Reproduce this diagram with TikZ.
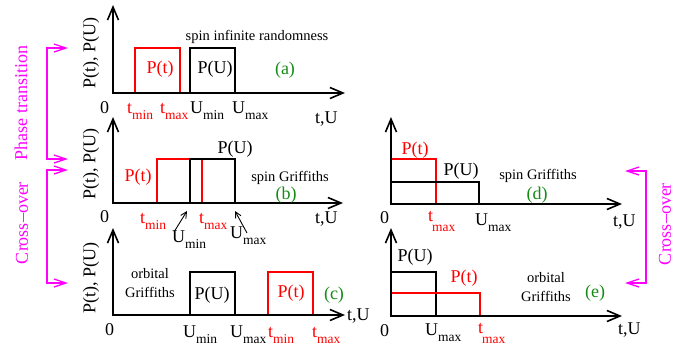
\documentclass[tikz,border=0pt]{standalone}
\usepackage{fontspec}
\setmainfont{Liberation Serif}
\usetikzlibrary{arrows.meta}
\definecolor{mag}{RGB}{255,0,255}
\definecolor{grn}{RGB}{20,140,20}
\definecolor{rd}{RGB}{255,0,0}
\newcommand\lo[1]{\raisebox{-6pt}{\fontsize{13.5}{15}\selectfont #1}}
\begin{document}
\begin{tikzpicture}[x=1pt,y=-1pt,
  axis/.style={line width=2pt, {Straight Barb[length=13pt,width=11pt,line width=1.6pt]}-{Straight Barb[length=13pt,width=11pt,line width=1.6pt]}},
  box/.style={line width=1.5pt},
  lab/.style={inner sep=0pt, font=\fontsize{18}{20}\selectfont},
  sublab/.style={inner sep=0pt, font=\fontsize{13.5}{15}\selectfont},
  sml/.style={inner sep=0pt, font=\fontsize{14.5}{19}\selectfont, align=center},
  brk/.style={mag, line width=1.5pt, {Straight Barb[length=12pt,width=8pt,line width=1.3pt]}-{Straight Barb[length=12pt,width=8pt,line width=1.3pt]}},
  sarr/.style={line width=0.9pt, -{Straight Barb[length=6pt,width=6pt]}},
  ylab/.style={lab, rotate=90, anchor=west},
]
\useasboundingbox (0,0) rectangle (697,349);

% ---------- magenta brackets ----------
\coordinate (L1a) at (68,48); \coordinate (L1b) at (47,48);
\coordinate (L1c) at (47,159); \coordinate (L1d) at (68,159);
\draw[brk] (L1a) -- (L1b) -- (L1c) -- (L1d);
\coordinate (L2a) at (68,170); \coordinate (L2b) at (47,170);
\coordinate (L2c) at (47,283); \coordinate (L2d) at (68,283);
\draw[brk] (L2a) -- (L2b) -- (L2c) -- (L2d);
\coordinate (R1a) at (625,171); \coordinate (R1b) at (646,171);
\coordinate (R1c) at (646,283); \coordinate (R1d) at (625,283);
\draw[brk] (R1a) -- (R1b) -- (R1c) -- (R1d);
\node[lab, text=mag, rotate=90] (phase) at (21,103) {Phase transition};
\node[lab, text=mag, rotate=90] (crossL) at (22,223) {Cross--over};
\node[lab, text=mag, rotate=90] (crossR) at (665,224) {Cross--over};

% ---------- panel (a) ----------
\coordinate (aO) at (113,93); \coordinate (aY) at (113,5); \coordinate (aX) at (345,93);
\draw[box, rd] (135,93) -- (135,48) -- (180,48) -- (180,93);
\draw[box] (190,93) -- (190,48) -- (235,48) -- (235,93);
\draw[axis] (aY) -- (aO) -- (aX);
\node[ylab] (aylab) at (91,89) {P(t), P(U)};
\node[sml] (atitle) at (257,37) {spin infinite randomness};
\node[lab, text=rd] (aPt) at (160,69) {P(t)};
\node[lab] (aPU) at (215,69) {P(U)};
\node[lab, text=grn] (alab) at (285,70) {(a)};
\node[lab, anchor=base west] (a0) at (100,113) {0};
\node[lab, anchor=base west, text=rd] (atmin) at (127,113) {t\lo{min}};
\node[lab, anchor=base west, text=rd] (atmax) at (160,113) {t\lo{max}};
\node[lab, anchor=base west] (aUmin) at (190,113) {U\lo{min}};
\node[lab, anchor=base west] (aUmax) at (232,113) {U\lo{max}};
\node[lab, anchor=base west] (atU) at (315,123) {t,U};

% ---------- panel (b) ----------
\coordinate (bO) at (113,203); \coordinate (bY) at (113,117); \coordinate (bX) at (343,203);
\draw[box, rd] (157,203) -- (157,159) -- (202,159) -- (202,203);
\draw[box] (190,203) -- (190,159) -- (235,159) -- (235,203);
\draw[axis] (bY) -- (bO) -- (bX);
\node[ylab] (bylab) at (91,200) {P(t), P(U)};
\node[lab, text=rd] (bPt) at (138,177) {P(t)};
\node[lab] (bPU) at (235,149) {P(U)};
\node[sml] (btitle) at (290,178) {spin Griffiths};
\node[lab, text=grn] (blab) at (286,195) {(b)};
\node[lab, anchor=base west] (b0) at (100,222) {0};
\node[lab, anchor=base west, text=rd] (btmin) at (140,223) {t\lo{min}};
\node[lab, anchor=base west, text=rd] (btmax) at (199,223) {t\lo{max}};
\node[lab, anchor=base west] (bUmin) at (172,242) {U\lo{min}};
\node[lab, anchor=base west] (bUmax) at (230,238) {U\lo{max}};
\node[lab, anchor=base west] (btU) at (315,223) {t,U};
\coordinate (bUminTip) at (187,211); \coordinate (bUmaxTip) at (235,211);
\coordinate (bs1) at (174,232); \coordinate (bs2) at (247,233);
\draw[sarr] (bs1) -- (bUminTip);
\draw[sarr] (bs2) -- (bUmaxTip);

% ---------- panel (c) ----------
\coordinate (cO) at (113,315); \coordinate (cY) at (113,228); \coordinate (cX) at (345,315);
\draw[box] (190,315) -- (190,272) -- (235,272) -- (235,315);
\draw[box, rd] (268,315) -- (268,272) -- (313,272) -- (313,315);
\draw[axis] (cY) -- (cO) -- (cX);
\node[ylab] (cylab) at (91,314) {P(t), P(U)};
\node[sml] (ctitle) at (150,283) {orbital\\Griffiths};
\node[lab] (cPU) at (212,295) {P(U)};
\node[lab, text=rd] (cPt) at (291,293) {P(t)};
\node[lab, text=grn] (clab) at (334,295) {(c)};
\node[lab, anchor=base west] (c0) at (105,335) {0};
\node[lab, anchor=base west] (cUmin) at (183,337) {U\lo{min}};
\node[lab, anchor=base west] (cUmax) at (230,337) {U\lo{max}};
\node[lab, anchor=base west, text=rd] (ctmin) at (268,337) {t\lo{min}};
\node[lab, anchor=base west, text=rd] (ctmax) at (312,337) {t\lo{max}};
\node[lab, anchor=base west] (ctU) at (347,320) {t,U};

% ---------- panel (d) ----------
\coordinate (dO) at (391,204); \coordinate (dY) at (391,117); \coordinate (dX) at (622,204);
\draw[box, rd] (391,159) -- (436,159) -- (436,204);
\draw[box] (391,182) -- (479,182) -- (479,204);
\draw[axis] (dY) -- (dO) -- (dX);
\node[lab, text=rd] (dPt) at (415,150) {P(t)};
\node[lab] (dPU) at (461,171) {P(U)};
\node[sml] (dtitle) at (538,176) {spin Griffiths};
\node[lab, text=grn] (dlab) at (537,195) {(d)};
\node[lab, anchor=base west] (d0) at (380,223) {0};
\node[lab, anchor=base west, text=rd] (dtmax) at (428,221) {t};
\node[sublab, anchor=north west, text=rd] (dtmaxs) at (432,225) {max};
\node[lab, anchor=base west] (dUmax) at (475,225) {U\lo{max}};
\node[lab, anchor=base west] (dtU) at (613,226) {t,U};

% ---------- panel (e) ----------
\coordinate (eO) at (391,316); \coordinate (eY) at (391,228); \coordinate (eX) at (622,316);
\draw[box] (391,272) -- (436,272) -- (436,316);
\draw[box, rd] (391,293) -- (480,293) -- (480,316);
\draw[axis] (eY) -- (eO) -- (eX);
\node[lab] (ePU) at (415,257) {P(U)};
\node[lab, text=rd] (ePt) at (464,278) {P(t)};
\node[sml] (etitle) at (546,287) {orbital\\Griffiths};
\node[lab, text=grn] (elab) at (595,293) {(e)};
\node[lab, anchor=base west] (e0) at (380,336) {0};
\node[lab, anchor=base west] (eUmax) at (425,335) {U\lo{max}};
\node[lab, anchor=base west, text=rd] (etmax) at (478,333) {t};
\node[sublab, anchor=north west, text=rd] (etmaxs) at (482,337) {max};
\node[lab, anchor=base west] (etU) at (618,334) {t,U};
\end{tikzpicture}
\end{document}
